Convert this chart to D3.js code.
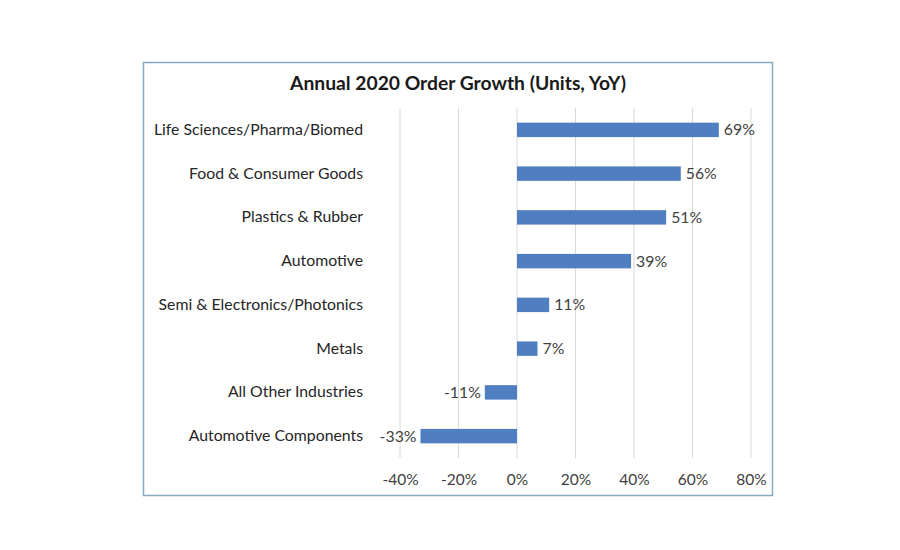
<!DOCTYPE html>
<html><head><meta charset="utf-8">
<script src="https://cdn.jsdelivr.net/npm/d3@7"></script>
<style>body{margin:0;background:#fff;} svg{display:block;}</style>
</head><body>
<svg id="c" width="900" height="550"></svg>
<script>
const categories = ["Life Sciences/Pharma/Biomed","Food & Consumer Goods","Plastics & Rubber","Automotive","Semi & Electronics/Photonics","Metals","All Other Industries","Automotive Components"];
const values = [69, 56, 51, 39, 11, 7, -11, -33];
const tickValues = [-40, -20, 0, 20, 40, 60, 80];
const title = "Annual 2020 Order Growth (Units, YoY)";

const svg = d3.select("#c");
const font = "Lato, 'Open Sans', sans-serif";
svg.append("rect").attr("x",143.5).attr("y",62.5).attr("width",629).attr("height",433)
  .attr("fill","#fff").attr("stroke","#86a9c0").attr("stroke-width",1.5);

const x = d3.scaleLinear().domain([-40,80]).range([400,751]);
const y = d3.scaleBand().domain(categories).range([108,458]).paddingInner(0.67).paddingOuter(0.335);

svg.append("g").selectAll("line").data(tickValues).join("line")
  .attr("x1",d=>x(d)).attr("x2",d=>x(d)).attr("y1",108).attr("y2",458)
  .attr("stroke","#d9d9d9").attr("stroke-width",1);

const ax = svg.append("g").attr("transform","translate(0,458)")
  .call(d3.axisBottom(x).tickValues(tickValues).tickSize(0).tickPadding(16).tickFormat(d=>d+"%"));
ax.select(".domain").remove();
ax.selectAll("text").attr("font-family",font).attr("font-size",15.5).attr("fill","#404040");

const ay = svg.append("g").attr("transform","translate(363,0)")
  .call(d3.axisLeft(y).tickSize(0).tickPadding(0));
ay.select(".domain").remove();
ay.selectAll("text").attr("font-family",font).attr("font-size",15.8).attr("fill","#262626");

svg.append("g").selectAll("rect").data(values).join("rect")
  .attr("x",d=>x(Math.min(0,d))).attr("width",d=>Math.abs(x(d)-x(0)))
  .attr("y",(d,i)=>y(categories[i])).attr("height",y.bandwidth())
  .attr("fill","#4f7fc0");

svg.append("g").selectAll("text").data(values).join("text")
  .attr("x",d=>d>=0? x(d)+5 : x(d)-4)
  .attr("y",(d,i)=>y(categories[i])+y.bandwidth()/2)
  .attr("dy","0.35em")
  .attr("text-anchor",d=>d>=0?"start":"end")
  .attr("font-family",font).attr("font-size",15.8).attr("fill","#404040")
  .text(d=>d+"%");

svg.append("text").attr("x",458).attr("y",90).attr("text-anchor","middle")
  .attr("font-family",font).attr("font-weight","bold").attr("font-size",19.3).attr("fill","#1a1a1a")
  .text(title);
</script>
</body></html>
